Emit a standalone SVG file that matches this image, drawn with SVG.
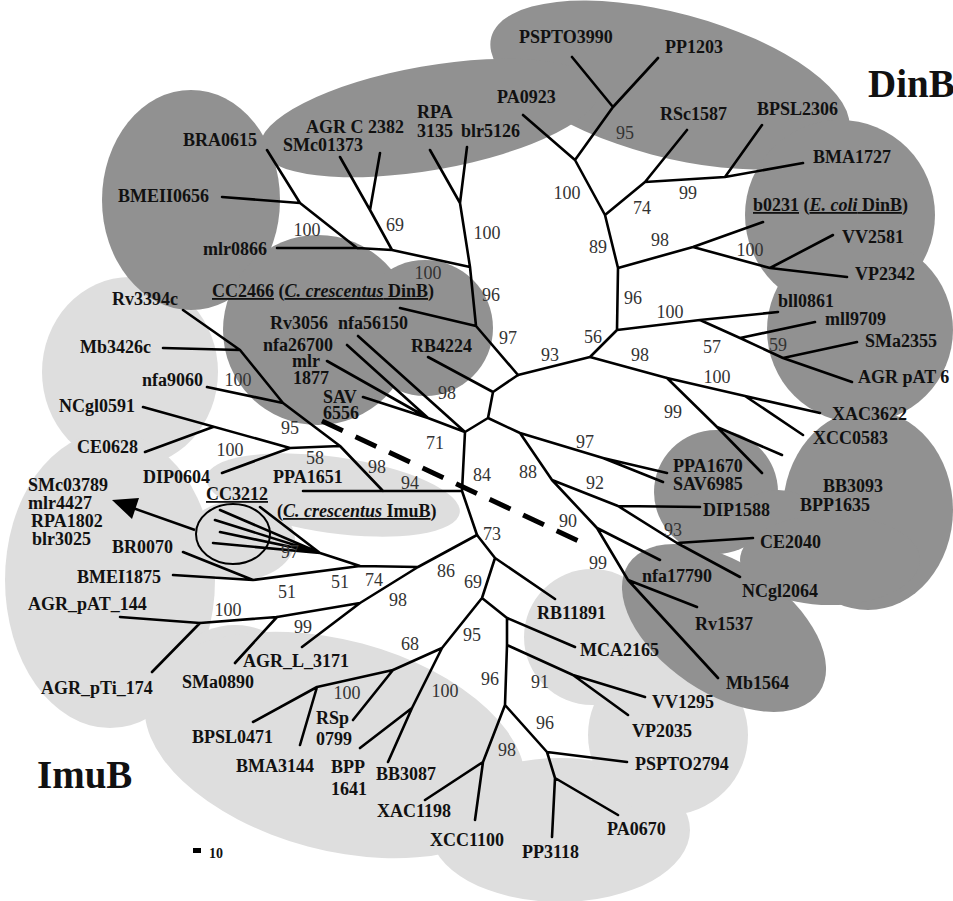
<svg xmlns="http://www.w3.org/2000/svg" width="953" height="901" viewBox="0 0 953 901">
<style>
.l{font-family:'Liberation Serif','Times New Roman',serif;font-weight:bold;font-size:18px;fill:#111}
.s{font-family:'Liberation Serif','Times New Roman',serif;font-size:18px;fill:#333;text-anchor:middle}
.big{font-family:'Liberation Serif','Times New Roman',serif;font-weight:bold;font-size:39px;fill:#111}
.e{fill:none;stroke:#000;stroke-width:2.6;stroke-linejoin:round;stroke-linecap:round}
.lt{fill:#dedede}
.dk{fill:#919191}
.u{text-decoration:underline}
.i{font-style:italic}
</style>
<rect width="953" height="901" fill="#fff"/>
<g id="clades">
<g id="imub-shading">
<ellipse class="lt" cx="130" cy="372" rx="88" ry="95"/>
<ellipse class="lt" cx="110" cy="580" rx="105" ry="148"/>
<ellipse class="lt" cx="240" cy="540" rx="55" ry="40"/>
<ellipse class="lt" cx="333" cy="495" rx="128" ry="38" transform="rotate(8 333 495)"/>
<circle class="lt" cx="235" cy="700" r="75"/>
<ellipse class="lt" cx="335" cy="745" rx="195" ry="105" transform="rotate(15 335 745)"/>
<ellipse class="lt" cx="560" cy="830" rx="130" ry="72"/>
<circle class="lt" cx="592" cy="637" r="68"/>
<ellipse class="lt" cx="668" cy="735" rx="80" ry="80"/>
</g>
<g id="dinb-shading">
<ellipse class="dk" cx="670" cy="85" rx="185" ry="72" transform="rotate(15 670 85)"/>
<ellipse class="dk" cx="430" cy="118" rx="172" ry="52" transform="rotate(-10 430 118)"/>
<ellipse class="dk" cx="191" cy="200" rx="89" ry="110"/>
<circle class="dk" cx="318" cy="330" r="95"/>
<circle class="dk" cx="425" cy="328" r="68"/>
<circle class="dk" cx="840" cy="215" r="95"/>
<circle class="dk" cx="860" cy="330" r="93"/>
<ellipse class="dk" cx="868" cy="510" rx="85" ry="100"/>
<circle class="dk" cx="716" cy="492" r="62"/>
<ellipse class="dk" cx="778" cy="525" rx="45" ry="35"/>
<ellipse class="dk" cx="724" cy="628" rx="115" ry="65" transform="rotate(34 724 628)"/>
<ellipse class="dk" cx="830" cy="560" rx="90" ry="45"/>
</g>
</g>
<g id="connectors">
<path class="e" d="M267,150 L300,203 M222,197 L300,203 L357,248 M277,248 L357,248 L392,250 L470,267 M340,157 L370,210 M380,153 L370,210 L392,250 M430,150 L460,203 M467,147 L460,203 L470,267 L476,326 L518,375 M400,308 L476,326"/>
<path class="e" d="M518,375 L590,357 L617,330 L618,268 L605,215 L575,160 M523,115 L575,160 L613,107 M572,57 L613,107 M658,58 L613,107 M605,215 L645,182 L687,130 M645,182 L725,177 L762,125 M725,177 L803,163 M618,268 L693,247 L763,222 M693,247 L770,268 L833,235 M770,268 L847,277 M617,330 L700,320 L778,312 M700,320 L740,338 L783,358 M740,338 L815,322 M783,358 L857,342 M783,358 L852,382 M590,357 L667,378 L745,396 L820,413 M745,396 L803,435 M667,378 L717,427 L782,455 M717,427 L762,473"/>
<path class="e" d="M518,375 L493,392 L488,418 M428,357 L493,392 M488,418 L520,433 L603,458 L667,473 M603,458 L663,482 M520,433 L552,480 L618,506 L700,507 M618,506 L677,543 L753,538 M677,543 L740,577 M552,480 L597,528 L660,560 M597,528 L628,580 L697,607 M628,580 L718,678 M488,418 L465,432 M358,336 L465,432 M428,418 L465,432 M347,345 L428,418 M327,361 L428,418 M363,397 L428,418 M465,432 L462,491 M303,491 L462,491 M183,310 L240,350 L283,403 L340,446 L383,491 M163,348 L240,350 M207,387 L283,403 M143,407 L290,448 M145,452 L213,427 M222,473 L290,448 L340,446 M462,491 L477,535"/>
<path class="e" d="M477,535 L418,567 L360,566 L320,553 M220,510 L320,553 M215,520 L320,553 M220,532 L320,553 M213,543 L320,553 M260,507 L320,553 M360,566 L253,580 M183,552 L253,580 M173,575 L253,580 M418,567 L360,603 M302,647 L360,603 L277,617 L200,623 L120,617 M277,617 L235,663 M200,623 L152,672 M477,535 L495,558 L555,599 M495,558 L482,598 L442,648 L393,670 L317,687 L253,722 M317,687 L300,745 M393,670 L353,720 M442,648 L412,708 L360,748 M412,708 L388,762 M482,598 L507,618 L575,647 M507,618 L507,645 L505,705 M507,645 L573,675 L645,697 M573,675 L628,715 M505,705 L483,762 L425,800 M483,762 L475,820 M505,705 L547,752 L627,762 M547,752 L555,778 L552,837 M555,778 L618,815"/>
<path d="M322,421 L583,543" fill="none" stroke="#000" stroke-width="5" stroke-dasharray="23,14"/>
<ellipse cx="233" cy="534" rx="37" ry="30" fill="none" stroke="#000" stroke-width="2"/>
<path d="M195,530 L133,508" fill="none" stroke="#000" stroke-width="2.4"/>
<polygon points="112,500 139,498 132,519" fill="#000"/>
<rect x="193" y="848" width="8" height="5" fill="#000"/>
</g>
<g id="leaves-dinb">
<g id="n-BRA0615"><text class="l" x="183" y="146">BRA0615</text></g>
<g id="n-AGRC2382"><text class="l" x="306" y="133">AGR C 2382</text></g>
<g id="n-SMc01373"><text class="l" x="283" y="151">SMc01373</text></g>
<g id="n-RPA3135"><text class="l" x="417" y="118">RPA</text><text class="l" x="417" y="137">3135</text></g>
<g id="n-blr5126"><text class="l" x="461" y="137">blr5126</text></g>
<g id="n-BMEII0656"><text class="l" x="118" y="202">BMEII0656</text></g>
<g id="n-mlr0866"><text class="l" x="203" y="255">mlr0866</text></g>
<g id="n-CC2466"><text class="l" x="212" y="297"><tspan class="u">CC2466</tspan> (<tspan class="u"><tspan class="i">C. crescentus</tspan> DinB</tspan>)</text></g>
<g id="n-PSPTO3990"><text class="l" x="519" y="43">PSPTO3990</text></g>
<g id="n-PP1203"><text class="l" x="665" y="53">PP1203</text></g>
<g id="n-PA0923"><text class="l" x="497" y="103">PA0923</text></g>
<g id="n-RSc1587"><text class="l" x="660" y="120">RSc1587</text></g>
<g id="n-BPSL2306"><text class="l" x="757" y="115">BPSL2306</text></g>
<g id="n-BMA1727"><text class="l" x="813" y="163">BMA1727</text></g>
<g id="n-b0231"><text class="l" x="753" y="211"><tspan class="u">b0231</tspan> (<tspan class="u"><tspan class="i">E. coli</tspan> DinB</tspan>)</text></g>
<g id="n-VV2581"><text class="l" x="842" y="243">VV2581</text></g>
<g id="n-VP2342"><text class="l" x="855" y="280">VP2342</text></g>
<g id="n-bll0861"><text class="l" x="778" y="307">bll0861</text></g>
<g id="n-mll9709"><text class="l" x="825" y="325">mll9709</text></g>
<g id="n-SMa2355"><text class="l" x="865" y="347">SMa2355</text></g>
<g id="n-AGRpAT6"><text class="l" x="858" y="383">AGR pAT 6</text></g>
<g id="n-XAC3622"><text class="l" x="832" y="420">XAC3622</text></g>
<g id="n-XCC0583"><text class="l" x="813" y="444">XCC0583</text></g>
<g id="n-PPA1670"><text class="l" x="673" y="472">PPA1670</text></g>
<g id="n-SAV6985"><text class="l" x="673" y="490">SAV6985</text></g>
<g id="n-BB3093"><text class="l" x="823" y="492">BB3093</text><text class="l" x="800" y="511">BPP1635</text></g>
<g id="n-DIP1588"><text class="l" x="703" y="516">DIP1588</text></g>
<g id="n-CE2040"><text class="l" x="760" y="548">CE2040</text></g>
<g id="n-nfa17790"><text class="l" x="642" y="582">nfa17790</text></g>
<g id="n-NCgl2064"><text class="l" x="742" y="597">NCgl2064</text></g>
<g id="n-Rv1537"><text class="l" x="695" y="630">Rv1537</text></g>
<g id="n-Mb1564"><text class="l" x="726" y="689">Mb1564</text></g>
<g id="n-Rv3056"><text class="l" x="270" y="329">Rv3056</text></g>
<g id="n-nfa56150"><text class="l" x="338" y="329">nfa56150</text></g>
<g id="n-nfa26700"><text class="l" x="263" y="351">nfa26700</text></g>
<g id="n-mlr1877"><text class="l" x="292" y="367">mlr</text><text class="l" x="293" y="384">1877</text></g>
<g id="n-SAV6556"><text class="l" x="323" y="403">SAV</text><text class="l" x="323" y="419">6556</text></g>
<g id="n-RB4224"><text class="l" x="411" y="352">RB4224</text></g>
</g>
<g id="leaves-imub">
<g id="n-Rv3394c"><text class="l" x="112" y="305">Rv3394c</text></g>
<g id="n-Mb3426c"><text class="l" x="80" y="353">Mb3426c</text></g>
<g id="n-nfa9060"><text class="l" x="142" y="386">nfa9060</text></g>
<g id="n-NCgl0591"><text class="l" x="59" y="412">NCgl0591</text></g>
<g id="n-CE0628"><text class="l" x="77" y="453">CE0628</text></g>
<g id="n-DIP0604"><text class="l" x="143" y="483">DIP0604</text></g>
<g id="n-PPA1651"><text class="l" x="273" y="483">PPA1651</text></g>
<g id="n-SMc03789"><text class="l" x="28" y="491">SMc03789</text><text class="l" x="28" y="509">mlr4427</text><text class="l" x="31" y="527">RPA1802</text><text class="l" x="32" y="545">blr3025</text></g>
<g id="n-CC3212"><text class="l" x="206" y="500"><tspan class="u">CC3212</tspan></text><text class="l" x="277" y="517">(<tspan class="u"><tspan class="i">C. crescentus</tspan> ImuB</tspan>)</text></g>
<g id="n-BR0070"><text class="l" x="112" y="553">BR0070</text></g>
<g id="n-BMEI1875"><text class="l" x="77" y="583">BMEI1875</text></g>
<g id="n-AGRpAT144"><text class="l" x="28" y="610">AGR_pAT_144</text></g>
<g id="n-AGRpTi174"><text class="l" x="41" y="694">AGR_pTi_174</text></g>
<g id="n-SMa0890"><text class="l" x="182" y="688">SMa0890</text></g>
<g id="n-AGRL3171"><text class="l" x="243" y="667">AGR_L_3171</text></g>
<g id="n-BPSL0471"><text class="l" x="192" y="743">BPSL0471</text></g>
<g id="n-BMA3144"><text class="l" x="236" y="772">BMA3144</text></g>
<g id="n-RSp0799"><text class="l" x="316" y="724">RSp</text><text class="l" x="316" y="745">0799</text></g>
<g id="n-BPP1641"><text class="l" x="331" y="773">BPP</text><text class="l" x="331" y="795">1641</text></g>
<g id="n-BB3087"><text class="l" x="376" y="780">BB3087</text></g>
<g id="n-XAC1198"><text class="l" x="377" y="817">XAC1198</text></g>
<g id="n-XCC1100"><text class="l" x="430" y="846">XCC1100</text></g>
<g id="n-PP3118"><text class="l" x="522" y="858">PP3118</text></g>
<g id="n-PA0670"><text class="l" x="607" y="835">PA0670</text></g>
<g id="n-PSPTO2794"><text class="l" x="635" y="770">PSPTO2794</text></g>
<g id="n-VP2035"><text class="l" x="632" y="737">VP2035</text></g>
<g id="n-VV1295"><text class="l" x="652" y="708">VV1295</text></g>
<g id="n-MCA2165"><text class="l" x="580" y="656">MCA2165</text></g>
<g id="n-RB11891"><text class="l" x="537" y="619">RB11891</text></g>
</g>
<g id="titles">
<text class="big" x="868" y="97">DinB</text>
<text class="big" x="37" y="788">ImuB</text>
<text class="l" x="209" y="858" style="font-size:14px">10</text>
</g>
<g id="support-values">
<text class="s" x="307" y="236">100</text>
<text class="s" x="395" y="231">69</text>
<text class="s" x="487" y="239">100</text>
<text class="s" x="428" y="279">100</text>
<text class="s" x="491" y="301">96</text>
<text class="s" x="508" y="344">97</text>
<text class="s" x="447" y="399">98</text>
<text class="s" x="435" y="449">71</text>
<text class="s" x="625" y="139">95</text>
<text class="s" x="567" y="199">100</text>
<text class="s" x="642" y="214">74</text>
<text class="s" x="688" y="199">99</text>
<text class="s" x="598" y="253">89</text>
<text class="s" x="660" y="246">98</text>
<text class="s" x="750" y="256">100</text>
<text class="s" x="633" y="304">96</text>
<text class="s" x="670" y="318">100</text>
<text class="s" x="712" y="353">57</text>
<text class="s" x="778" y="351">59</text>
<text class="s" x="593" y="343">56</text>
<text class="s" x="550" y="361">93</text>
<text class="s" x="640" y="361">98</text>
<text class="s" x="717" y="383">100</text>
<text class="s" x="673" y="418">99</text>
<text class="s" x="585" y="448">97</text>
<text class="s" x="482" y="481">84</text>
<text class="s" x="528" y="478">88</text>
<text class="s" x="595" y="489">92</text>
<text class="s" x="673" y="536">93</text>
<text class="s" x="568" y="527">90</text>
<text class="s" x="598" y="569">99</text>
<text class="s" x="492" y="540">73</text>
<text class="s" x="238" y="386">100</text>
<text class="s" x="290" y="434">95</text>
<text class="s" x="230" y="456">100</text>
<text class="s" x="315" y="464">58</text>
<text class="s" x="377" y="473">98</text>
<text class="s" x="410" y="489">94</text>
<text class="s" x="290" y="558">97</text>
<text class="s" x="287" y="598">51</text>
<text class="s" x="340" y="588">51</text>
<text class="s" x="374" y="586">74</text>
<text class="s" x="446" y="577">86</text>
<text class="s" x="473" y="588">69</text>
<text class="s" x="228" y="616">100</text>
<text class="s" x="303" y="633">99</text>
<text class="s" x="398" y="606">98</text>
<text class="s" x="410" y="650">68</text>
<text class="s" x="472" y="641">95</text>
<text class="s" x="347" y="699">100</text>
<text class="s" x="445" y="697">100</text>
<text class="s" x="490" y="685">96</text>
<text class="s" x="540" y="688">91</text>
<text class="s" x="545" y="729">96</text>
<text class="s" x="507" y="756">98</text>
</g>
</svg>
